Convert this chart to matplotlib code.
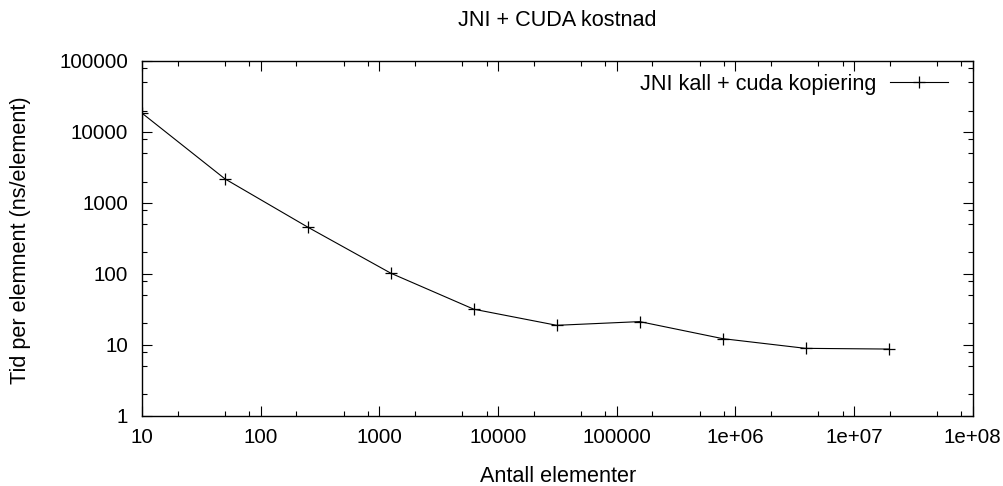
import math
import matplotlib
matplotlib.use("Agg")
import matplotlib.pyplot as plt
from matplotlib.ticker import LogLocator, FuncFormatter, NullFormatter

# -- data --
antall = [10, 50, 250, 1250, 6250, 31250, 156250, 781250, 3906250, 19531250]
tid = [18400, 2180, 454, 102, 31.7, 18.8, 21.2, 12.2, 8.9, 8.7]
serie_navn = "JNI kall + cuda kopiering"

plt.rcParams['font.family'] = ['Liberation Sans', 'DejaVu Sans']
FS_TICK = 14.8
FS = 15.6


def fmt_tick(v, pos):
	""" gnuplot style labels: plain up to 100000, then 1e+06 etc """
	if v < 1e6:
		return "%d" % round(v)
	return "1e+%02d" % int(round(math.log10(v)))


fig = plt.figure(figsize=(10.04, 4.86), dpi=100)
ax = fig.add_axes([142 / 1004, 1 - 415.7 / 486, (972.7 - 142) / 1004, (415.7 - 61) / 486])

ax.plot(antall, tid, color="black", linewidth=0.8, marker="+",
        markersize=8, markeredgewidth=0.9, label=serie_navn)

ax.set_xscale("log")
ax.set_yscale("log")
ax.set_xlim(10, 1e8)
ax.set_ylim(1, 1e5)

# -- ticks, gnuplot look: inside, mirrored, minor at 2,5,8 --
for axis in (ax.xaxis, ax.yaxis):
	axis.set_major_locator(LogLocator(base=10, numticks=20))
	axis.set_minor_locator(LogLocator(base=10, subs=[2, 5, 8], numticks=20))
	axis.set_major_formatter(FuncFormatter(fmt_tick))
	axis.set_minor_formatter(NullFormatter())

ax.tick_params(which="both", direction="in", top=True, right=True, labelsize=FS_TICK)
ax.tick_params(which="major", length=7, width=0.8)
ax.tick_params(which="minor", length=3.5, width=0.8)
ax.tick_params(axis="x", pad=9)
ax.tick_params(axis="y", pad=10)

for sp in ax.spines.values():
	sp.set_linewidth(1.0)

# -- texts --
fig.text(557.5 / 1004, 1 - 20 / 486, "JNI + CUDA kostnad", ha="center", va="center", fontsize=FS)
fig.text(558 / 1004, 1 - 476.7 / 486, "Antall elementer", ha="center", va="center", fontsize=FS)
fig.text(21 / 1004, 1 - 240 / 486, "Tid per elemnent (ns/element)", ha="center", va="center",
         rotation=90, fontsize=FS)

ax.legend(loc="center right", bbox_to_anchor=(0.9706, 0.9343), frameon=False,
          markerfirst=False, fontsize=FS, handlelength=2.7, handletextpad=0.6,
          borderpad=0, borderaxespad=0)

fig.savefig("out.png", dpi=100)
